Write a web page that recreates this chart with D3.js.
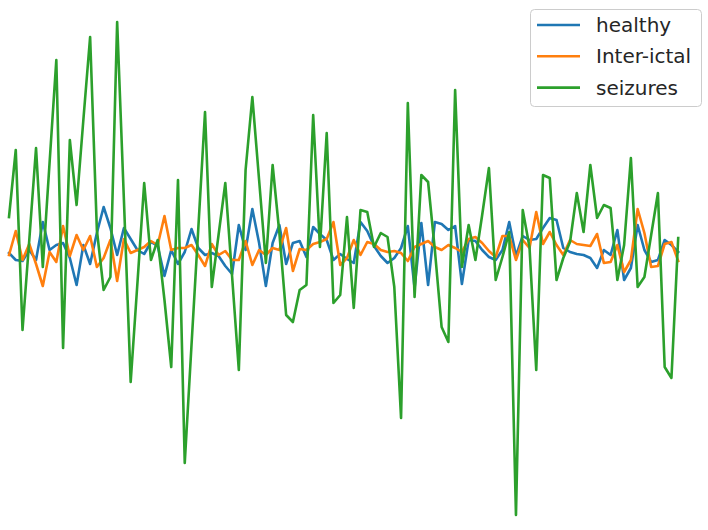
<!DOCTYPE html>
<html lang="en">
<head>
  <meta charset="UTF-8">
  <script src="https://d3js.org/d3.v7.min.js"></script>
  <title>EEG samples</title>
  <style>
    body {
      margin: 0;
      background: white;
      font-family: "DejaVu Sans", sans-serif;
      overflow: hidden;
    }
  </style>
</head>
<body>
<script>
  // EEG amplitude per sample (100 samples each)
  const healthy = [
    -12, -40, -44, 0, -40, 112, 0, 20, 28, -32, -140, 20, -56, 68, 172, 88, -20, 88, 44, 0,
    -16, 32, 16, -104, 0, -56, -8, 84, 8, -20, -12, -24, -64, -96, 100, 0, 164, 28, -144, 28,
    100, -56, 28, 36, -28, 92, 64, 40, -40, -16, -36, -52, 112, 76, 16, -24, -52, -32, 8, 96,
    -152, 108, -140, 112, 104, 80, 96, -136, 40, 36, 0, -28, -40, 0, 112, -24, 56, 40, 44, 88,
    128, 120, 8, -8, -16, -20, -32, -72, 0, -20, 80, -120, -72, 100, 0, -48, -40, 40, 20, -8
  ];
  const interIctal = [
    -20, 76, -40, 24, -56, -144, -8, -48, 96, -24, 60, 0, 56, -68, -32, 40, -124, 44, -12, 0,
    12, 36, 20, 136, 0, 8, 8, 20, -20, -64, 24, -20, -4, -40, -40, 36, -60, 0, -20, 8,
    0, 88, -84, 4, 0, 24, 32, 44, 112, -60, -32, 40, -20, 32, 24, 0, -8, -4, -12, -44,
    12, 24, 36, 12, 0, 20, 8, -8, 44, 52, 28, -4, -28, 56, 56, -40, 40, 8, 152, 24,
    72, 20, -20, 40, 24, 20, 16, 64, -52, -48, 20, -88, -40, 164, 68, -68, -64, 24, 32, -44
  ];
  const seizures = [
    132, 400, -320, 40, 408, -68, 348, 760, -392, 440, 180, 520, 852, 80, -160, -108, 912, 200, -528, -132,
    268, -40, 40, -200, -468, 280, -852, -380, 84, 552, -148, 60, 268, -104, -480, 320, 612, 280, -52, 340,
    68, -260, -288, -160, -140, 540, 12, 468, -212, -180, 132, -232, 160, 152, 12, 68, 52, -148, -672, 588,
    -188, 300, 272, 0, -308, -368, 640, -68, 100, -40, 140, 328, -120, -28, 72, -1060, 160, 12, -480, 300,
    288, -120, -32, 32, 228, 72, 340, 128, 180, 168, -120, 20, 368, -148, -108, 60, 228, -468, -512, 48
  ];

  const seriesNames = ["healthy", "Inter-ictal", "seizures"];
  const seriesValues = [healthy, interIctal, seizures];
  const seriesColors = ["#1f77b4", "#ff7f0e", "#2ca02c"];

  const width = 708;
  const height = 530;

  const svg = d3.select("body").append("svg")
    .attr("width", width)
    .attr("height", height);

  // No axes in the original, just the traces
  const x = d3.scaleLinear()
    .domain([0, healthy.length - 1])
    .range([9, 678.2]);

  const y = d3.scaleLinear()
    .domain([-1100, 1000])
    .range([525, 0]);

  const line = d3.line()
    .x((d, i) => x(i))
    .y(d => y(d));

  svg.append("g")
    .selectAll("path")
    .data(seriesValues)
    .enter().append("path")
    .attr("d", d => line(d))
    .attr("fill", "none")
    .attr("stroke", (d, i) => seriesColors[i])
    .attr("stroke-width", 2.6)
    .attr("stroke-linejoin", "round")
    .attr("stroke-linecap", "square");

  // Legend, top right
  const legend = svg.append("g").attr("class", "legend");

  legend.append("rect")
    .attr("x", 530.5)
    .attr("y", 9.5)
    .attr("width", 171)
    .attr("height", 97)
    .attr("rx", 4)
    .attr("fill", "white")
    .attr("fill-opacity", 0.8)
    .attr("stroke", "#cccccc");

  const items = legend.selectAll(".legend-item")
    .data(seriesNames)
    .enter().append("g")
    .attr("class", "legend-item")
    .attr("transform", (d, i) => `translate(0, ${25 + i * 31.3})`);

  items.append("line")
    .attr("x1", 537)
    .attr("x2", 580)
    .attr("stroke", (d, i) => seriesColors[i])
    .attr("stroke-width", 2.6);

  items.append("text")
    .attr("x", 596)
    .attr("dy", "0.35em")
    .attr("font-size", 20)
    .attr("fill", "#262626")
    .text(d => d);
</script>
</body>
</html>
